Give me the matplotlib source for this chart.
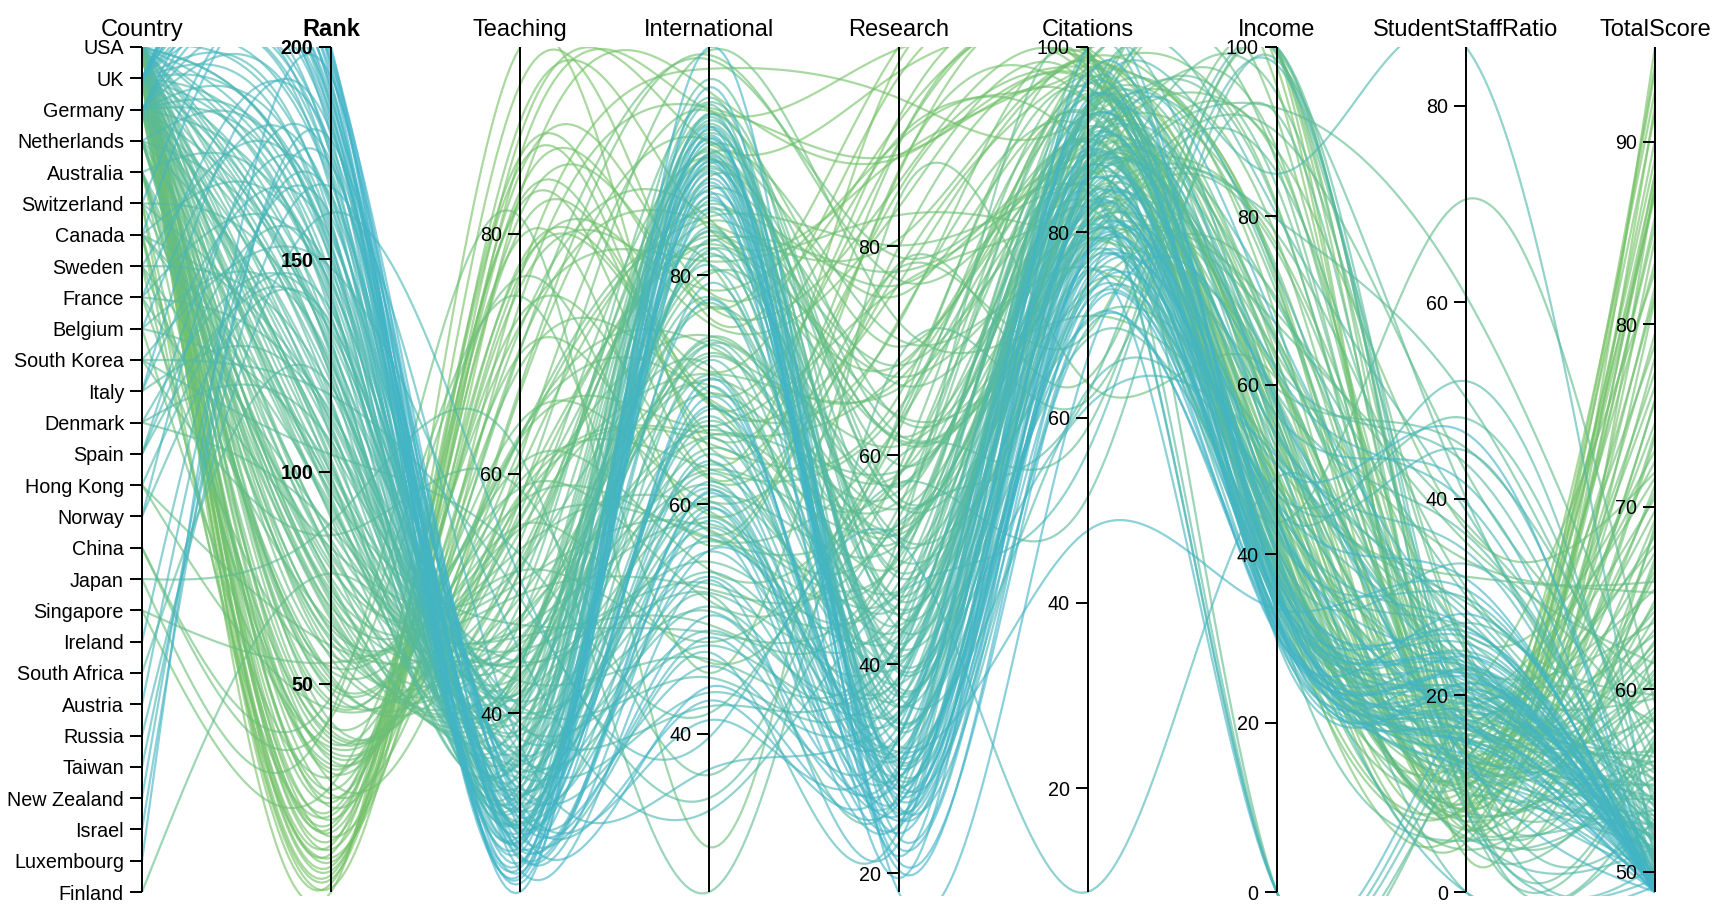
import numpy as np
import matplotlib
matplotlib.use('Agg')
import matplotlib.pyplot as plt
from matplotlib.collections import LineCollection
from matplotlib.patches import Rectangle

plt.rcParams['font.family'] = ['Liberation Sans', 'DejaVu Sans']

# axis order of the country dimension (top to bottom)
country_order = ['USA', 'UK', 'Germany', 'Netherlands', 'Australia', 'Switzerland', 'Canada',
                 'Sweden', 'France', 'Belgium', 'South Korea', 'Italy', 'Denmark', 'Spain',
                 'Hong Kong', 'Norway', 'China', 'Japan', 'Singapore', 'Ireland', 'South Africa',
                 'Austria', 'Russia', 'Taiwan', 'New Zealand', 'Israel', 'Luxembourg', 'Finland']

# one entry per university, in rank order 1..200
country = [
    'USA', 'UK', 'USA', 'UK', 'USA', 'USA', 'USA', 'UK', 'Switzerland', 'USA',
    'USA', 'USA', 'USA', 'UK', 'USA', 'USA', 'USA', 'USA', 'Canada', 'USA',
    'USA', 'USA', 'USA', 'UK', 'USA', 'Singapore', 'UK', 'Sweden', 'Germany', 'USA',
    'Switzerland', 'USA', 'Australia', 'Canada', 'Belgium', 'USA', 'Germany', 'Canada', 'USA', 'UK',
    'USA', 'China', 'Japan', 'Hong Kong', 'USA', 'USA', 'China', 'Germany', 'USA', 'USA',
    'Australia', 'Australia', 'Germany', 'France', 'Singapore', 'UK', 'USA', 'Netherlands', 'Hong Kong', 'Australia',
    'USA', 'Netherlands', 'USA', 'Sweden', 'Netherlands', 'Australia', 'Netherlands', 'USA', 'Netherlands', 'UK',
    'Germany', 'USA', 'Australia', 'Netherlands', 'Germany', 'Finland', 'USA', 'Switzerland', 'UK', 'USA',
    'Germany', 'France', 'Australia', 'USA', 'South Korea', 'Sweden', 'Denmark', 'Japan', 'UK', 'Germany',
    'USA', 'Canada', 'UK', 'Netherlands', 'USA', 'Germany', 'Canada', 'USA', 'UK', 'Belgium',
    'USA', 'UK', 'Switzerland', 'South Korea', 'Germany', 'USA', 'Denmark', 'UK', 'USA', 'Germany',
    'Netherlands', 'Italy', 'Canada', 'France', 'USA', 'Germany', 'UK', 'South Korea', 'Sweden', 'South Africa',
    'USA', 'UK', 'Germany', 'Switzerland', 'USA', 'Belgium', 'UK', 'Netherlands', 'USA', 'Germany',
    'UK', 'USA', 'Spain', 'Denmark', 'Norway', 'USA', 'UK', 'Hong Kong', 'Germany', 'USA',
    'Australia', 'UK', 'Canada', 'France', 'USA', 'Germany', 'Spain', 'South Korea', 'UK', 'USA',
    'Netherlands', 'Germany', 'USA', 'UK', 'Italy', 'USA', 'Sweden', 'Germany', 'UK', 'Ireland',
    'Russia', 'USA', 'Belgium', 'Spain', 'Austria', 'UK', 'Taiwan', 'USA', 'Germany', 'UK',
    'USA', 'New Zealand', 'Norway', 'UK', 'USA', 'Germany', 'France', 'Israel', 'UK', 'Italy',
    'USA', 'Germany', 'UK', 'USA', 'Switzerland', 'UK', 'USA', 'Germany', 'UK', 'USA',
    'Canada', 'UK', 'Luxembourg', 'USA', 'UK', 'Germany', 'USA', 'UK', 'USA', 'UK',
]

rank = list(range(1, 201))

teaching = [
    95.6, 86.5, 92.5, 88.2, 89.4, 83.6, 85.1, 83.3, 76.4, 85.7,
    77.6, 86.5, 80.4, 74.3, 81.6, 82.4, 82.8, 76.7, 75.6, 79.7,
    70.5, 77.2, 70.0, 66.8, 73.2, 72.4, 61.3, 72.1, 62.9, 68.9,
    67.3, 63.0, 62.1, 60.2, 58.2, 64.3, 58.3, 56.9, 57.6, 70.3,
    55.2, 76.4, 81.4, 57.9, 60.8, 63.3, 74.8, 56.1, 55.7, 59.4,
    54.4, 52.0, 57.6, 63.1, 56.3, 53.1, 58.8, 47.9, 52.6, 51.8,
    55.4, 46.3, 51.9, 49.7, 45.2, 47.6, 44.8, 53.7, 42.5, 50.6,
    48.1, 49.9, 44.2, 40.9, 47.5, 43.3, 51.0, 49.2, 44.0, 46.4,
    45.8, 52.3, 41.2, 47.1, 58.7, 44.9, 46.0, 61.5, 43.6, 41.7,
    45.3, 42.8, 44.1, 38.9, 47.4, 40.3, 42.1, 44.6, 39.8, 40.7,
    43.9, 41.5, 37.6, 53.2, 39.4, 42.7, 43.1, 36.8, 44.3, 38.2,
    36.9, 30.9, 41.8, 44.8, 40.1, 35.7, 38.4, 49.6, 38.6, 32.1,
    41.0, 35.3, 37.2, 36.4, 40.6, 34.8, 36.1, 33.9, 39.7, 35.1,
    34.2, 38.8, 33.4, 37.0, 34.6, 39.2, 32.7, 40.4, 33.1, 36.5,
    32.9, 33.6, 35.8, 41.3, 37.9, 31.8, 30.4, 45.1, 32.3, 36.2,
    30.8, 33.2, 35.4, 31.5, 29.7, 36.7, 33.0, 32.5, 31.2, 30.1,
    51.2, 34.9, 29.3, 28.6, 30.5, 29.9, 37.4, 34.0, 31.9, 28.9,
    33.7, 30.7, 27.8, 29.5, 32.6, 31.3, 36.0, 28.2, 27.4, 26.9,
    31.6, 30.2, 28.4, 33.3, 27.1, 29.1, 32.0, 30.0, 26.5, 28.0,
    29.6, 27.6, 25.1, 31.1, 26.2, 28.7, 30.3, 26.7, 29.0, 25.8,
]

international = [
    64.0, 94.4, 76.3, 91.5, 84.0, 77.2, 78.5, 96.0, 98.0, 65.0,
    71.6, 68.7, 69.8, 94.6, 77.3, 62.4, 66.1, 75.8, 78.7, 57.6,
    84.5, 68.9, 59.1, 91.7, 62.2, 81.2, 94.3, 84.9, 66.8, 69.2,
    99.2, 73.8, 85.1, 85.7, 82.9, 60.3, 66.2, 82.7, 65.3, 98.8,
    71.4, 56.4, 30.1, 99.6, 54.3, 69.0, 45.3, 74.7, 46.2, 63.1,
    90.2, 90.6, 57.0, 81.0, 83.4, 84.7, 51.6, 70.9, 86.2, 87.5,
    57.1, 66.5, 48.0, 70.4, 80.1, 91.3, 77.2, 59.4, 74.0, 90.8,
    66.0, 52.6, 88.6, 73.2, 69.7, 74.6, 57.8, 95.1, 94.0, 49.5,
    63.0, 72.1, 89.7, 58.3, 36.4, 72.9, 80.4, 26.2, 90.1, 60.6,
    53.1, 82.2, 92.4, 77.6, 48.8, 64.9, 81.6, 61.7, 93.2, 83.9,
    55.0, 89.3, 97.1, 41.8, 67.3, 46.5, 83.8, 91.0, 52.3, 62.7,
    81.9, 52.1, 74.3, 78.1, 50.7, 58.9, 93.5, 34.4, 71.3, 72.6,
    56.8, 92.7, 63.5, 95.5, 44.9, 82.4, 90.4, 73.9, 54.1, 60.2,
    93.8, 47.7, 61.4, 84.2, 68.3, 42.4, 88.9, 89.5, 65.8, 58.0,
    87.0, 94.9, 86.8, 80.9, 51.1, 67.7, 59.8, 33.3, 90.3, 49.0,
    79.3, 66.9, 55.9, 91.9, 47.1, 43.6, 83.1, 64.4, 92.0, 88.1,
    39.7, 53.7, 85.5, 58.6, 86.5, 94.1, 36.9, 45.9, 63.8, 89.9,
    62.0, 88.4, 61.2, 92.9, 41.2, 68.6, 77.9, 57.3, 90.6, 53.4,
    48.4, 69.4, 91.6, 56.0, 96.4, 87.8, 42.9, 70.3, 93.0, 61.0,
    85.9, 89.1, 99.9, 50.3, 92.2, 71.0, 44.1, 87.3, 59.6, 90.0,
]

research = [
    97.6, 98.9, 96.2, 96.7, 88.6, 99.1, 91.9, 88.5, 94.2, 86.9,
    90.4, 92.3, 89.9, 88.8, 86.1, 89.7, 85.3, 83.7, 90.1, 87.2,
    80.7, 76.4, 79.9, 75.3, 77.8, 83.0, 70.4, 68.7, 76.2, 72.6,
    76.8, 67.2, 80.1, 76.3, 77.6, 72.9, 68.0, 67.5, 65.7, 79.0,
    66.4, 77.9, 84.4, 72.8, 62.3, 58.1, 78.3, 60.9, 63.7, 64.4,
    61.8, 71.1, 63.0, 52.7, 63.8, 68.6, 58.6, 58.2, 61.3, 66.8,
    57.9, 55.6, 63.2, 49.4, 61.5, 63.5, 57.2, 54.0, 54.9, 59.1,
    58.5, 55.0, 62.0, 51.8, 56.6, 52.4, 50.5, 55.9, 55.3, 52.0,
    53.3, 45.7, 55.2, 50.1, 59.8, 52.9, 57.0, 69.3, 48.8, 51.5,
    49.2, 52.2, 51.4, 43.7, 50.8, 47.0, 50.0, 46.9, 46.1, 45.3,
    47.8, 48.3, 44.6, 57.4, 43.2, 44.0, 46.5, 41.9, 45.9, 42.7,
    40.7, 27.6, 44.8, 41.5, 42.3, 38.6, 43.4, 53.5, 40.2, 36.7,
    44.2, 39.5, 41.1, 37.8, 40.5, 35.9, 39.2, 38.1, 41.7, 36.3,
    37.4, 40.9, 33.2, 36.9, 39.8, 42.1, 34.5, 37.0, 35.2, 38.8,
    40.0, 33.6, 36.0, 34.3, 38.3, 31.7, 29.8, 46.7, 30.4, 35.0,
    33.9, 32.6, 34.9, 30.7, 24.1, 37.6, 32.2, 31.4, 29.5, 28.3,
    51.9, 34.1, 28.9, 27.2, 30.1, 26.4, 35.5, 32.9, 29.1, 25.7,
    30.9, 27.9, 26.8, 28.6, 33.0, 29.3, 31.0, 24.7, 25.3, 22.9,
    30.3, 28.1, 26.0, 31.6, 23.4, 27.4, 29.7, 25.0, 21.6, 24.4,
    27.0, 22.4, 18.2, 28.8, 20.3, 23.8, 26.6, 19.5, 25.5, 21.1,
]

citations = [
    99.8, 98.8, 99.9, 97.0, 99.7, 99.8, 99.3, 96.7, 93.0, 99.2,
    98.3, 97.7, 99.6, 94.1, 98.0, 97.4, 97.9, 95.8, 88.5, 94.3,
    98.6, 98.9, 96.4, 92.6, 97.6, 79.4, 90.1, 94.6, 83.9, 99.0,
    92.0, 99.4, 86.3, 86.8, 89.7, 91.1, 90.6, 81.2, 98.4, 84.5,
    93.6, 69.1, 63.7, 71.0, 92.9, 95.3, 64.2, 84.8, 95.6, 88.3,
    87.0, 76.2, 85.2, 97.3, 73.5, 83.5, 96.9, 89.1, 78.7, 82.0,
    93.8, 87.9, 89.8, 91.6, 80.6, 78.1, 87.4, 96.1, 91.9, 84.2,
    78.9, 95.0, 80.3, 93.3, 82.7, 86.7, 91.4, 85.9, 83.0, 99.5,
    81.8, 92.4, 77.0, 90.8, 58.9, 88.0, 93.1, 61.9, 82.3, 79.8,
    94.8, 74.7, 79.0, 92.2, 88.9, 81.5, 70.3, 86.0, 84.1, 89.4,
    90.3, 80.9, 87.6, 51.4, 85.5, 92.7, 85.0, 92.9, 90.0, 83.3,
    86.9, 99.9, 74.2, 68.5, 89.5, 93.4, 75.6, 62.5, 82.8, 98.1,
    85.7, 79.7, 88.6, 84.6, 88.2, 94.0, 80.0, 86.4, 87.3, 91.0,
    82.5, 90.4, 97.2, 85.4, 92.8, 79.3, 81.0, 63.0, 89.2, 85.1,
    78.4, 87.7, 81.7, 72.5, 88.4, 93.7, 96.2, 56.3, 84.4, 80.2,
    86.6, 91.8, 77.8, 83.6, 95.9, 80.8, 74.4, 85.8, 76.5, 88.8,
    8.8, 84.3, 79.1, 93.9, 82.2, 71.7, 61.2, 87.1, 90.2, 86.2,
    76.9, 79.6, 83.8, 69.6, 88.7, 81.4, 73.3, 89.6, 78.2, 94.4,
    92.3, 77.4, 75.9, 47.8, 87.5, 80.4, 85.6, 72.9, 100.0, 83.2,
    76.0, 77.7, 66.4, 82.6, 74.0, 78.0, 70.6, 96.6, 75.2, 71.3,
]

income = [
    97.8, 73.1, 63.3, 55.0, 95.4, 45.2, 52.1, 53.7, 100.0, 36.6,
    100.0, 43.6, 49.6, 45.9, 44.8, 48.2, 72.4, 36.0, 42.9, 56.1,
    61.5, 67.8, 54.5, 37.9, 81.4, 61.0, 41.4, 58.6, 86.9, 35.4,
    77.4, 91.7, 76.6, 48.5, 87.8, 44.1, 73.9, 60.9, 40.3, 38.6,
    100.0, 99.3, 60.7, 49.1, 38.2, 36.8, 99.7, 88.0, 42.5, 48.9,
    63.6, 44.9, 50.8, 49.8, 70.2, 40.1, 46.6, 58.7, 75.9, 65.4,
    70.9, 65.8, 50.2, 86.3, 94.5, 68.5, 56.9, 39.4, 100.0, 55.6,
    89.9, 46.4, 77.9, 61.9, 43.7, 62.8, 39.8, 83.5, 53.6, 0.0,
    92.8, 43.0, 67.2, 57.3, 100.0, 81.0, 71.8, 92.1, 40.7, 59.6,
    47.5, 85.2, 39.2, 65.1, 41.8, 79.6, 51.9, 44.4, 37.3, 99.1,
    42.0, 40.8, 64.7, 98.5, 69.7, 36.3, 58.0, 33.9, 35.8, 47.0,
    52.6, 33.1, 45.5, 38.8, 0.0, 53.0, 35.1, 100.0, 41.2, 57.7,
    39.1, 34.6, 62.1, 59.0, 37.0, 80.2, 46.9, 54.8, 34.2, 45.1,
    32.4, 44.3, 36.2, 55.9, 51.3, 36.5, 38.3, 47.2, 57.4, 0.0,
    54.2, 31.9, 43.2, 36.9, 35.5, 85.0, 40.6, 97.9, 37.6, 33.7,
    73.2, 48.1, 32.8, 35.0, 30.7, 31.1, 44.6, 53.9, 34.9, 38.0,
    49.0, 0.0, 42.2, 39.9, 45.8, 37.7, 51.5, 32.1, 61.6, 30.2,
    34.0, 35.6, 40.4, 31.3, 33.4, 56.4, 34.5, 38.9, 32.5, 29.8,
    36.4, 42.8, 0.0, 33.5, 66.9, 31.6, 30.9, 46.1, 33.0, 37.1,
    35.2, 32.2, 58.2, 34.8, 30.4, 50.5, 31.8, 35.7, 43.8, 30.6,
]

student_staff = [
    6.9, 11.6, 7.8, 11.8, 9.0, 8.9, 8.4, 11.4, 14.6, 6.9,
    3.6, 5.0, 13.7, 10.5, 5.9, 9.3, 6.4, 10.1, 20.3, 8.5,
    13.4, 5.4, 11.0, 13.6, 13.9, 16.9, 12.0, 8.3, 17.4, 8.7,
    11.8, 13.9, 26.3, 18.6, 36.9, 19.3, 14.0, 15.7, 15.8, 12.5,
    19.0, 9.1, 6.9, 18.2, 17.0, 10.8, 14.4, 11.5, 8.9, 9.9,
    33.8, 19.7, 32.1, 6.3, 18.7, 13.8, 7.2, 22.9, 19.9, 22.4,
    14.1, 17.7, 13.1, 9.6, 24.3, 35.6, 12.4, 4.3, 25.0, 14.2,
    42.8, 12.2, 31.0, 22.1, 70.5, 15.1, 7.7, 11.3, 16.8, 14.7,
    60.7, 8.1, 37.5, 4.8, 10.7, 10.0, 11.7, 8.6, 15.4, 45.2,
    18.1, 21.6, 16.5, 23.6, 10.2, 50.3, 25.7, 5.6, 17.9, 40.1,
    13.0, 14.8, 24.8, 10.4, 30.2, 13.3, 15.9, 18.9, 16.1, 48.2,
    29.5, 5.2, 21.0, 12.9, 13.5, 0.0, 19.2, 16.3, 11.1, 23.2,
    15.6, 20.9, 43.6, 36.4, 11.9, 38.8, 17.2, 21.8, 16.0, 52.0,
    22.6, 12.1, 27.4, 6.5, 20.5, 13.2, 19.5, 23.9, 27.9, 14.9,
    28.7, 18.4, 26.9, 19.6, 17.6, 86.0, 33.4, 14.6, 20.0, 16.6,
    18.8, 44.9, 15.2, 24.5, 21.3, 17.5, 12.7, 34.7, 22.2, 20.7,
    8.3, 16.4, 29.9, 25.3, 27.1, 21.5, 20.1, 18.5, 39.6, 22.8,
    17.1, 24.1, 0.0, 20.4, 15.5, 41.5, 23.0, 26.0, 19.1, 21.2,
    14.0, 22.7, 18.0, 30.8, 25.6, 22.3, 16.7, 31.9, 20.6, 23.4,
    26.5, 19.8, 13.4, 15.3, 28.3, 46.7, 12.6, 24.0, 17.3, 21.9,
]

total_score = [
    95.2, 94.2, 93.9, 92.8, 92.0, 91.6, 90.1, 89.1, 88.3, 88.2,
    87.8, 87.5, 87.2, 87.1, 85.9, 85.4, 84.7, 83.4, 82.9, 82.1,
    81.6, 81.4, 79.5, 78.9, 78.2, 77.4, 76.6, 75.9, 75.8, 74.6,
    74.1, 73.8, 73.1, 72.5, 71.9, 71.6, 71.2, 70.8, 70.5, 69.8,
    69.3, 69.0, 68.7, 68.4, 67.9, 67.5, 67.2, 66.9, 66.5, 66.2,
    65.9, 65.5, 65.3, 64.9, 64.6, 64.3, 64.0, 63.7, 63.3, 63.0,
    62.7, 62.5, 62.2, 61.9, 61.6, 61.4, 61.1, 60.9, 60.6, 60.4,
    60.1, 59.9, 59.7, 59.5, 59.2, 59.0, 58.8, 58.6, 58.4, 58.2,
    58.0, 57.8, 57.6, 57.5, 57.3, 57.1, 56.9, 56.8, 56.6, 56.4,
    56.3, 56.1, 56.0, 55.8, 55.7, 55.5, 55.4, 55.2, 55.1, 54.9,
    54.8, 54.7, 54.5, 54.4, 54.3, 54.1, 54.0, 53.9, 53.7, 53.6,
    53.5, 53.4, 53.3, 53.1, 53.0, 52.9, 52.8, 52.7, 52.6, 52.5,
    52.4, 52.3, 52.2, 52.1, 52.0, 51.9, 51.8, 51.8, 51.7, 51.6,
    51.5, 51.4, 51.3, 51.3, 51.2, 51.1, 51.0, 51.0, 50.9, 50.8,
    50.8, 50.7, 50.6, 50.6, 50.5, 50.4, 50.4, 50.3, 50.3, 50.2,
    50.1, 50.1, 50.0, 50.0, 49.9, 49.9, 49.8, 49.8, 49.7, 49.7,
    49.6, 49.6, 49.5, 49.5, 49.5, 49.4, 49.4, 49.4, 49.3, 49.3,
    49.3, 49.2, 49.2, 49.2, 49.2, 49.1, 49.1, 49.1, 49.1, 49.0,
    49.0, 49.0, 49.0, 49.0, 49.0, 48.9, 48.9, 48.9, 48.9, 48.9,
    48.9, 48.9, 48.9, 48.9, 48.9, 48.9, 48.9, 48.9, 48.9, 48.9,
]

dims = ['Country', 'Rank', 'Teaching', 'International', 'Research',
        'Citations', 'Income', 'StudentStaffRatio', 'TotalScore']
tick_values = {
    'Rank': [50, 100, 150, 200],
    'Teaching': [40, 60, 80],
    'International': [40, 60, 80],
    'Research': [20, 40, 60, 80],
    'Citations': [20, 40, 60, 80, 100],
    'Income': [0, 20, 40, 60, 80, 100],
    'StudentStaffRatio': [0, 20, 40, 60, 80],
    'TotalScore': [50, 60, 70, 80, 90],
}
numeric = {'Rank': rank, 'Teaching': teaching, 'International': international,
           'Research': research, 'Citations': citations, 'Income': income,
           'StudentStaffRatio': student_staff, 'TotalScore': total_score}

green = np.array([118, 194, 100]) / 255
blue = np.array([64, 180, 202]) / 255

# figure geometry (pixels)
W, H = 1716, 914
left_px, right_px, top_px, bot_px = 142, 1655, 47, 892
fig = plt.figure(figsize=(W / 100, H / 100), dpi=100)
ax = fig.add_axes([left_px / W, (H - bot_px) / H, (right_px - left_px) / W, (bot_px - top_px) / H])
ax.set_xlim(0, len(dims) - 1)
ax.set_ylim(0, 1)
ax.axis('off')
px_x = (len(dims) - 1) / (right_px - left_px)
px_y = 1 / (bot_px - top_px)

# normalised positions on each axis
cols = []
n_c = len(country_order)
cols.append(np.array([1 - country_order.index(c) / (n_c - 1) for c in country]))
domains = {}
for d in dims[1:]:
    v = np.asarray(numeric[d], dtype=float)
    lo, hi = v.min(), v.max()
    domains[d] = (lo, hi)
    cols.append((v - lo) / (hi - lo))
Y = np.column_stack(cols)  # 200 x 9

# natural cubic spline through the points (like d3.curveNatural)
k = Y.shape[1]
A = np.zeros((k, k))
A[0, 0] = A[-1, -1] = 1
for i in range(1, k - 1):
    A[i, i - 1:i + 2] = [1, 4, 1]
B = np.zeros_like(Y.T)
B[1:-1] = 6 * (Y.T[2:] - 2 * Y.T[1:-1] + Y.T[:-2])
M = np.linalg.solve(A, B).T

steps = 40
t = np.linspace(0, 1, steps, endpoint=False)
xs, ys = [], []
for i in range(k - 1):
    y0, y1 = Y[:, i:i + 1], Y[:, i + 1:i + 2]
    m0, m1 = M[:, i:i + 1], M[:, i + 1:i + 2]
    seg = (1 - t) * y0 + t * y1 + ((1 - t) ** 3 - (1 - t)) * m0 / 6 + (t ** 3 - t) * m1 / 6
    xs.append(np.broadcast_to(i + t, seg.shape))
    ys.append(seg)
xs.append(np.full((Y.shape[0], 1), k - 1.0))
ys.append(Y[:, -1:])
xs = np.hstack(xs)
ys = np.hstack(ys)

frac = (np.asarray(rank) - 1) / (max(rank) - 1)
colors = [(*(green * (1 - f) + blue * f), 0.62) for f in frac]
lines = [np.column_stack([xs[j], ys[j]]) for j in range(len(rank))]
lc = LineCollection(lines, colors=colors, linewidths=1.6, zorder=1)
ax.add_collection(lc)
# the lines are cut at the top and bottom of the plot area
clip = Rectangle((-0.1, -4 * px_y), len(dims) - 0.8, 1 + 4 * px_y,
                 transform=ax.transData, visible=False)
ax.add_patch(clip)
lc.set_clip_path(clip)

# axes, ticks and labels
tick_fs = 14.2
for i, d in enumerate(dims):
    ax.plot([i, i], [0, 1], color='black', lw=1.4, zorder=3, clip_on=False,
            solid_capstyle='butt')
    weight = 'bold' if d == 'Rank' else 'normal'
    ax.text(i, 1 + 11 * px_y, d, ha='center', va='baseline', fontsize=17,
            fontweight=weight, zorder=4)
    if d == 'Country':
        labels = [(1 - j / (n_c - 1), name) for j, name in enumerate(country_order)]
    else:
        lo, hi = domains[d]
        labels = [((v - lo) / (hi - lo), str(v)) for v in tick_values[d]]
    for yy, lab in labels:
        ax.plot([i - 12 * px_x, i], [yy, yy], color='black', lw=1.4, zorder=3,
                clip_on=False, solid_capstyle='butt')
        ax.text(i - 18 * px_x, yy, lab, ha='right', va='center_baseline',
                fontsize=tick_fs, fontweight=weight, zorder=4)

fig.savefig('out.png', dpi=100, facecolor='white')
